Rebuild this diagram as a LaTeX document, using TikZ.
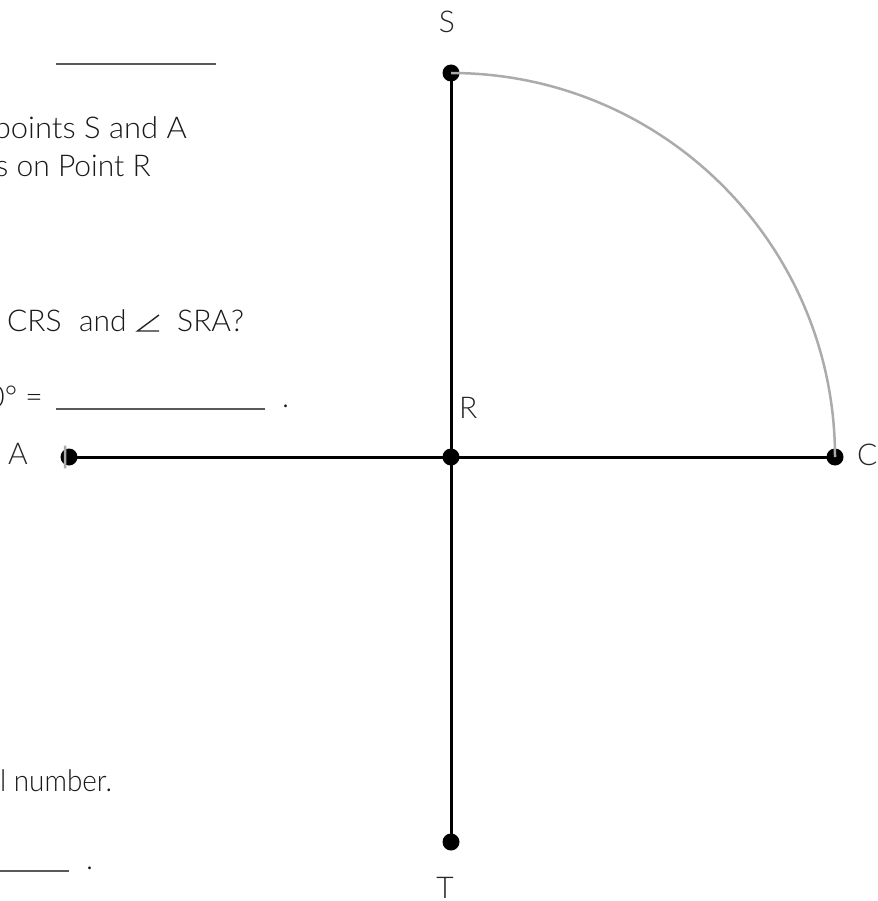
\documentclass[tikz,border=0pt]{standalone}
\usepackage{fontspec}
\IfFontExistsTF{Lato Light}{\setmainfont{Lato Light}}{\setmainfont{Carlito}}
\begin{document}
\begin{tikzpicture}[x=1pt,y=1pt,
  dot/.style={circle,fill=black,inner sep=0pt,minimum size=17pt},
  lbl/.style={inner sep=0pt,text=black!85,font=\fontsize{30}{36}\selectfont},
  txt/.style={inner sep=0pt,text=black!90,font=\fontsize{30}{36}\selectfont},
  blank/.style={draw=black!65,line width=2pt},
  axisline/.style={draw=black,line width=3pt},
  arcline/.style={draw=black!33,line width=2.5pt},
  angsym/.style={draw=black!85,line width=1.4pt,line join=miter}]
\useasboundingbox (0,0) rectangle (877,-901);
\clip (0,0) rectangle (877,-901);
% points
\node[dot] (S) at (451,-73) {};
\node[dot] (R) at (451,-457) {};
\node[dot] (C) at (835,-457) {};
\node[dot] (A) at (69,-457) {};
\node[dot] (T) at (451,-842) {};
% lines
\draw[axisline] (S.center) -- (T.center);
\draw[axisline] (A.center) -- (C.center);
% arc
\draw[arcline] (S.center) arc[start angle=90,end angle=0,radius=384];
\draw[arcline] ([shift={(178.3:386)}]R.center) arc[start angle=178.3,end angle=181.7,radius=386];
% labels
\node[lbl,anchor=base] (lS) at (447,-33) {S};
\node[lbl,anchor=base west] (lR) at (459,-418) {R};
\node[lbl,anchor=base] (lA) at (18,-464) {A};
\node[lbl,anchor=base west] (lC) at (857,-465) {C};
\node[lbl,anchor=base] (lT) at (445,-898) {T};
% left text
\coordinate (u1a) at (56,-64); \coordinate (u1b) at (216,-64);
\draw[blank] (u1a) -- (u1b);
\node[txt,anchor=base east] (t1) at (187,-139) {\resizebox{193pt}{\height}{points S and A}};
\node[txt,anchor=base east] (t2) at (151,-177) {s on Point R};
\node[txt,anchor=base west] (t3a) at (7,-331) {CRS};
\node[txt,anchor=base west] (t3b) at (79,-331) {and};
\coordinate (ang1) at (159,-315);
\coordinate (ang2) at (137.5,-331);
\coordinate (ang3) at (159,-331);
\draw[angsym] (ang1) -- (ang2) -- (ang3);
\node[txt,anchor=base west] (t3c) at (177,-331) {SRA?};
\node[txt,anchor=base east] (t4) at (43,-407) {0° =};
\coordinate (u2a) at (56,-409); \coordinate (u2b) at (265,-409);
\draw[blank] (u2a) -- (u2b);
\node[txt,anchor=base west] (p2) at (282,-407) {.};
\node[txt,anchor=base west] (t5) at (0,-791) {\resizebox{112pt}{\height}{l number.}};
\coordinate (u3a) at (0,-871); \coordinate (u3b) at (69,-871);
\draw[blank] (u3a) -- (u3b);
\node[txt,anchor=base west] (p3) at (86,-869) {.};
\end{tikzpicture}
\end{document}
